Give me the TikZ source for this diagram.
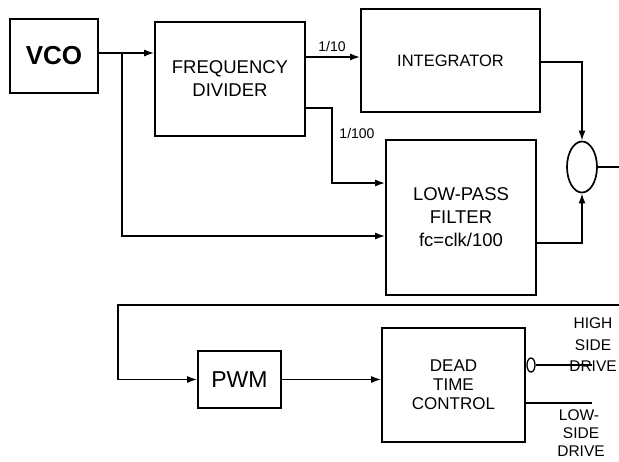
\documentclass[tikz,border=0pt]{standalone}
\usepackage{fontspec}
\setmainfont{Liberation Sans}
\usetikzlibrary{arrows.meta,shapes.geometric}
\begin{document}
\begin{tikzpicture}[x=1pt,y=-1pt,
  line width=1.6pt,
  box/.style={draw,rectangle,line width=1.7pt,align=center,inner sep=0pt},
  arr/.style={-{Latex[length=10pt,width=7pt]}},
  lbl/.style={inner sep=0pt,align=center},
  fsA/.style={font=\fontsize{18.5}{23}\selectfont},
  fsB/.style={font=\fontsize{17}{19}\selectfont},
  fsS/.style={font=\fontsize{15.5}{16}\selectfont},
]
\useasboundingbox (0,0) rectangle (619,461);
% blocks
\node[box,minimum width=88pt,minimum height=74pt,font=\fontsize{26}{28}\selectfont\bfseries] (vco) at (54,56) {VCO};
\node[box,minimum width=150pt,minimum height=114pt,fsA] (fd) at (230,79) {FREQUENCY\\DIVIDER};
\node[box,minimum width=179pt,minimum height=103pt,font=\fontsize{16.5}{18}\selectfont] (int) at (450.5,60.5) {INTEGRATOR};
\node[box,minimum width=150pt,minimum height=155pt,fsA] (lpf) at (461,217.5) {LOW-PASS\\FILTER\\fc=clk/100};
\node[draw,ellipse,line width=1.7pt,minimum width=30pt,minimum height=51pt,inner sep=0pt] (sum) at (582,167) {};
\node[box,minimum width=83pt,minimum height=57pt,font=\fontsize{23}{25}\selectfont] (pwm) at (239.5,379.5) {PWM};
\node[box,minimum width=143pt,minimum height=114pt,fsB] (dtc) at (453.5,385) {DEAD\\TIME\\CONTROL};
\node[draw,ellipse,line width=1.3pt,minimum width=8pt,minimum height=14pt,inner sep=0pt] (bub) at (531,365) {};
% coordinates
\coordinate (j1) at (122,53);
\coordinate (c1) at (122,236);
\coordinate (k1) at (332,108);
\coordinate (k2) at (332,183);
\coordinate (eout) at (619,167);
\coordinate (ein) at (619,305);
\coordinate (c2) at (118,305);
\coordinate (hi) at (592,365);
\coordinate (lo) at (592,403);
% connectors
\draw[arr] (vco.east |- j1) -- (fd.west |- j1);
\draw[arr] (j1) -- (c1) -- (lpf.west |- c1);
\draw[arr] (fd.east |- 0,57) -- (int.west |- 0,57);
\draw[arr] (fd.east |- k1) -- (k1) -- (k2) -- (lpf.west |- k2);
\draw[arr] (int.east |- 0,62) -| (sum.north);
\draw[arr] (lpf.east |- 0,243) -| (sum.south);
\draw (sum.east) -- (eout);
\draw[arr] (ein) -- (c2) |- (pwm.west);
\draw[arr] (pwm.east) -- (dtc.west |- pwm.east);
\draw (bub.east) -- (hi);
\draw (dtc.east |- lo) -- (lo);
% labels
\node[lbl,font=\fontsize{14}{15}\selectfont] (l10) at (332,46) {1/10};
\node[lbl,font=\fontsize{14}{15}\selectfont] (l100) at (357,133) {1/100};
\node[lbl,fsS] (h1) at (593,323) {HIGH};
\node[lbl,fsS] (h2) at (593,345) {SIDE};
\node[lbl,fsS] (h3) at (593,366) {DRIVE};
\node[lbl,fsS] (w1) at (579,415) {LOW-};
\node[lbl,fsS] (w2) at (581,433) {SIDE};
\node[lbl,fsS] (w3) at (581,451) {DRIVE};
\end{tikzpicture}
\end{document}
